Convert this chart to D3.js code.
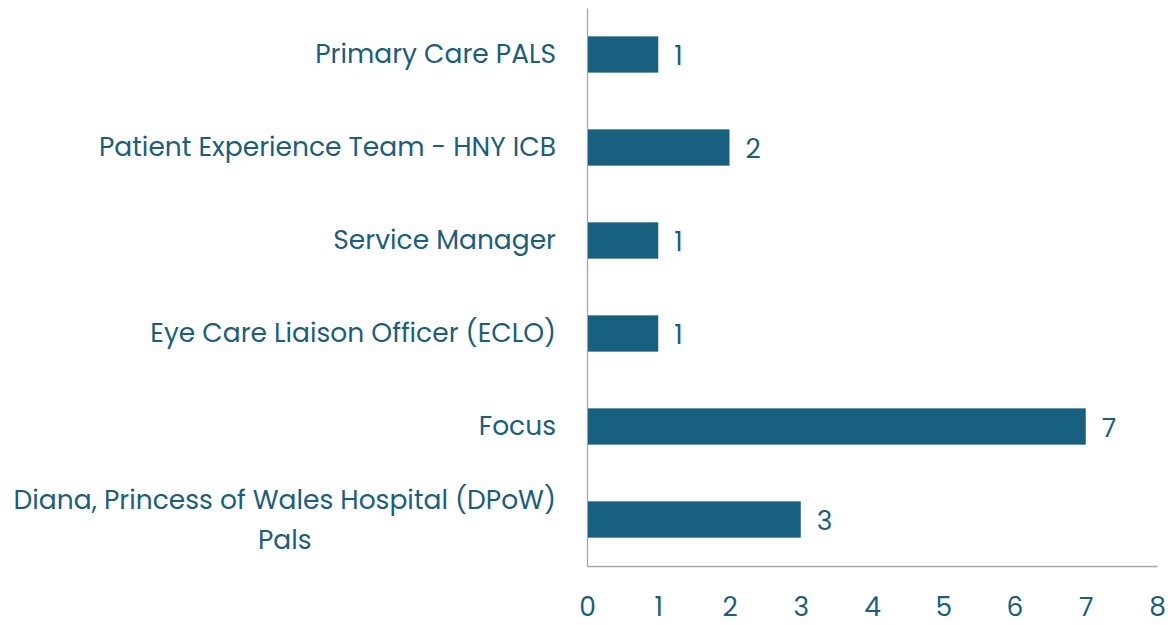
<!DOCTYPE html>
<html>
<head>
<meta charset="utf-8">
<script src="https://cdn.jsdelivr.net/npm/d3@7"></script>
<style>
  body { margin: 0; background: #fff; }
  text { font-family: Poppins, "Open Sans", sans-serif; fill: #1a5e7e; }
</style>
</head>
<body>
<div id="chart-area"></div>
<script>
// Data
var categories = [
  'Primary Care PALS',
  'Patient Experience Team - HNY ICB',
  'Service Manager',
  'Eye Care Liaison Officer (ECLO)',
  'Focus',
  'Diana, Princess of Wales Hospital (DPoW) Pals'
]
var counts = [1, 2, 1, 1, 7, 3]
var xTicks = [0, 1, 2, 3, 4, 5, 6, 7, 8]

var fontSize = '26.5px'

var margin = { left: 587, right: 16, top: 8, bottom: 59 }
var width = 1173 - margin.left - margin.right
var height = 625 - margin.top - margin.bottom

var svg = d3.select('#chart-area')
  .append('svg')
    .attr('width', 1173)
    .attr('height', 625)

var g = svg.append('g')
  .attr('transform', `translate(${margin.left}, ${margin.top})`)

var data = categories.map((c, i) => ({ name: c, value: counts[i] }))

// X Scale
var x = d3.scaleLinear()
  .domain([0, 8])
  .range([0, width])

// Y Scale
var y = d3.scaleBand()
  .domain(categories)
  .range([0, height])
  .paddingInner(0.61)
  .paddingOuter(0.305)

// X Axis
var xAxis = g.append('g')
  .attr('transform', `translate(0, ${height})`)
  .call(d3.axisBottom(x).tickValues(xTicks).tickSize(0).tickPadding(31))
xAxis.select('.domain').attr('stroke', '#a6a6a6').attr('stroke-width', 1.3)
xAxis.selectAll('text')
  .attr('font-size', fontSize)
  .attr('fill', '#1a5e7e')

// Y Axis
var yAxis = g.append('g')
  .call(d3.axisLeft(y).tickSize(0).tickFormat(''))
yAxis.select('.domain').attr('stroke', '#a6a6a6').attr('stroke-width', 1.3)

// category labels (wrapped)
g.selectAll('.cat-label')
  .data(data)
  .enter()
  .append('text')
    .attr('class', 'cat-label')
    .attr('font-size', fontSize)
    .each(function (d) {
      var el = d3.select(this)
      var cy = y(d.name) + y.bandwidth() / 2
      var words = d.name.split(' ')
      var lines = []
      var line = []
      var tmp = el.append('tspan')
      words.forEach(w => {
        line.push(w)
        tmp.text(line.join(' '))
        if (tmp.node().getComputedTextLength() > 560 && line.length > 1) {
          line.pop()
          lines.push(line.join(' '))
          line = [w]
        }
      })
      lines.push(line.join(' '))
      tmp.remove()
      var lh = 40
      if (lines.length === 1) {
        el.append('tspan')
          .attr('x', -31)
          .attr('y', cy - 1)
          .attr('dy', '0.35em')
          .attr('text-anchor', 'end')
          .text(lines[0])
      } else {
        // widest line sets the block; lines are centred inside it
        var widths = lines.map(l => {
          var t = el.append('tspan').text(l)
          var wd = t.node().getComputedTextLength()
          t.remove()
          return wd
        })
        var maxW = d3.max(widths)
        var cx = -31 - maxW / 2
        lines.forEach((l, i) => {
          el.append('tspan')
            .attr('x', cx)
            .attr('y', cy + (i - (lines.length - 1) / 2) * lh)
            .attr('dy', '0.35em')
            .attr('text-anchor', 'middle')
            .text(l)
        })
      }
    })

// Bars
g.selectAll('rect')
  .data(data)
  .enter()
  .append('rect')
    .attr('x', x(0) + 1)
    .attr('y', d => y(d.name))
    .attr('width', d => x(d.value) - x(0) - 1)
    .attr('height', y.bandwidth())
    .attr('fill', '#17607f')

// value labels
g.selectAll('.val-label')
  .data(data)
  .enter()
  .append('text')
    .attr('class', 'val-label')
    .attr('x', d => x(d.value) + 16)
    .attr('y', d => y(d.name) + y.bandwidth() / 2)
    .attr('dy', '0.38em')
    .attr('font-size', fontSize)
    .text(d => d.value)
</script>
</body>
</html>
